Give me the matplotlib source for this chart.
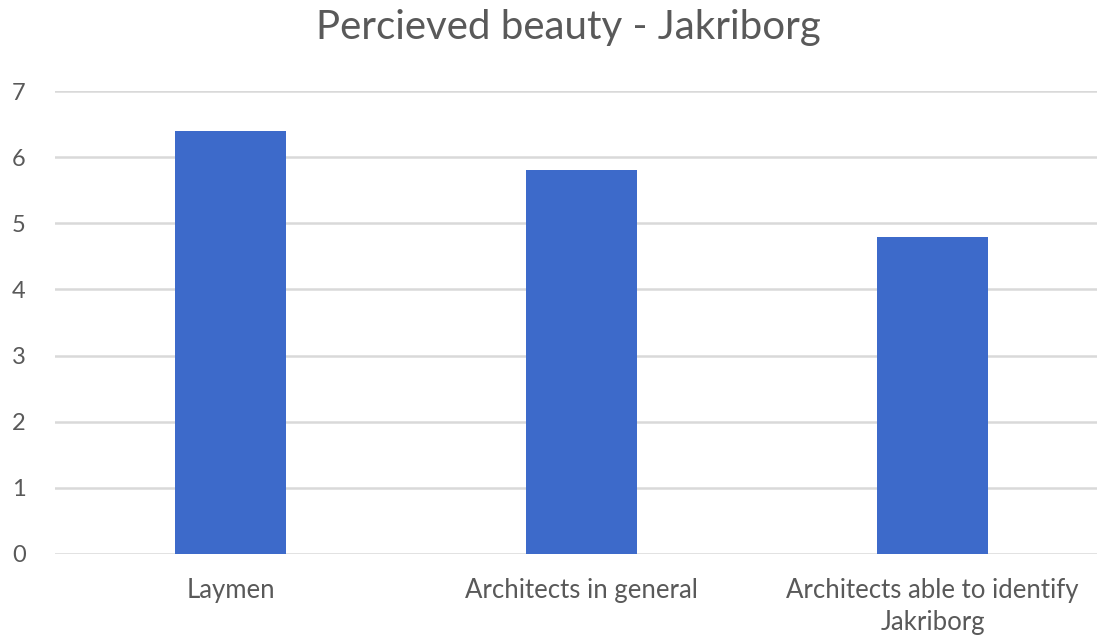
import matplotlib
matplotlib.use("Agg")
import matplotlib.pyplot as plt
import numpy as np

groups = ["Laymen", "Architects in general", "Architects able to identify\nJakriborg"]
scores = [6.4, 5.8, 4.8]
yticks = [0, 1, 2, 3, 4, 5, 6, 7]

plt.rcParams["font.family"] = ["Lato", "DejaVu Sans"]
text_col = "#595959"

fig = plt.figure(figsize=(10.97, 6.40), dpi=100)
ax = fig.add_axes([55 / 1097, 1 - 554 / 640, 1053 / 1097, (554 - 91) / 640])

x = np.arange(len(groups))
ax.bar(x, scores, width=0.315, color="#3D6ACA", zorder=3)

ax.set_xlim(-0.5, len(groups) - 0.5)
ax.set_ylim(0, 7)
ax.set_yticks(yticks)
ax.set_xticks(x)
ax.set_xticklabels(groups, fontsize=18.5, color=text_col, linespacing=1.35)
ax.tick_params(axis="y", labelsize=17, labelcolor=text_col, length=0, pad=21)
ax.tick_params(axis="x", length=0, pad=17)
ax.yaxis.grid(True, color="#D9D9D9", linewidth=1.8, zorder=0)
for s in ax.spines.values():
    s.set_visible(False)

fig.text(0.518, 1 - 28 / 640, "Percieved beauty - Jakriborg", ha="center", va="center",
         fontsize=29, color=text_col)

fig.savefig("out.png", dpi=100)
